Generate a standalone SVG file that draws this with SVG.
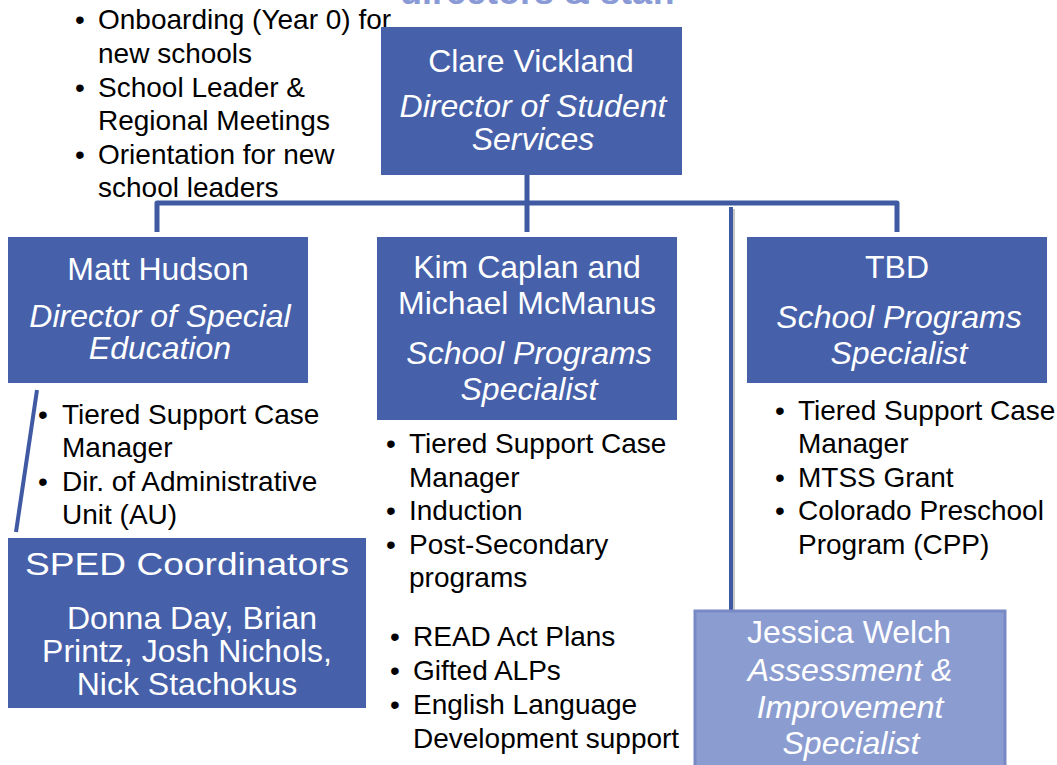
<svg xmlns="http://www.w3.org/2000/svg" width="1057" height="765" viewBox="0 0 1057 765">
<style>
.box{fill:#4660AA;}
.jw{fill:#8B9CD1;stroke:#7889C5;stroke-width:3;}
.t{font-family:"Liberation Sans",Arial,sans-serif;fill:#ffffff;text-anchor:middle;font-size:32px;}
.i{font-style:italic;}
.b{font-family:"Liberation Sans",Arial,sans-serif;fill:#000000;font-size:28px;}
.ln{stroke:#3F5AA3;stroke-width:5;fill:none;stroke-linejoin:round;stroke-linecap:butt;}
</style>
<rect width="1057" height="765" fill="#ffffff"/>
<text x="538" y="4" font-family="Liberation Sans,Arial,sans-serif" font-weight="bold" font-size="36" fill="#8A9AD6" text-anchor="middle">directors &amp; staff</text>

<g id="connectors">
<path class="ln" d="M527,175 V203"/>
<path class="ln" d="M157,232 V203 H897 V232"/>
<path class="ln" d="M527,203 V232"/>
<line x1="733" y1="209" x2="733" y2="612" stroke="#c8c8c8" stroke-width="4"/>
<line x1="731" y1="207" x2="731" y2="610" stroke="#3F5AA3" stroke-width="4"/>
<line x1="37" y1="390" x2="16" y2="532" stroke="#3F5AA3" stroke-width="4"/>
</g>

<g id="top-list">
<text class="b" x="75" y="29">•</text><text class="b" x="98" y="29">Onboarding (Year 0) for</text>
<text class="b" x="98" y="63">new schools</text>
<text class="b" x="75" y="97">•</text><text class="b" x="98" y="97">School Leader &amp;</text>
<text class="b" x="98" y="130">Regional Meetings</text>
<text class="b" x="75" y="164">•</text><text class="b" x="98" y="164">Orientation for new</text>
<text class="b" x="98" y="197">school leaders</text>
</g>

<g id="clare">
<rect class="box" x="381" y="27" width="301" height="148"/>
<text class="t" x="531" y="72">Clare Vickland</text>
<text class="t i" x="533" y="117">Director of Student</text>
<text class="t i" x="533" y="150">Services</text>
</g>

<g id="matt">
<rect class="box" x="8" y="237" width="300" height="146"/>
<text class="t" x="158" y="280">Matt Hudson</text>
<text class="t i" x="160" y="327">Director of Special</text>
<text class="t i" x="160" y="359">Education</text>
</g>

<g id="kim">
<rect class="box" x="377" y="237" width="300" height="183"/>
<text class="t" x="527" y="278">Kim Caplan and</text>
<text class="t" x="527" y="314">Michael McManus</text>
<text class="t i" x="529" y="364">School Programs</text>
<text class="t i" x="529" y="400">Specialist</text>
</g>

<g id="tbd">
<rect class="box" x="747" y="237" width="300" height="146"/>
<text class="t" x="897" y="278">TBD</text>
<text class="t i" x="899" y="328">School Programs</text>
<text class="t i" x="899" y="364">Specialist</text>
</g>

<g id="matt-list">
<text class="b" x="38" y="424">•</text><text class="b" x="62" y="424">Tiered Support Case</text>
<text class="b" x="62" y="457">Manager</text>
<text class="b" x="38" y="491">•</text><text class="b" x="62" y="491">Dir. of Administrative</text>
<text class="b" x="62" y="524">Unit (AU)</text>
</g>

<g id="kim-list">
<text class="b" x="386" y="453">•</text><text class="b" x="409" y="453">Tiered Support Case</text>
<text class="b" x="409" y="487">Manager</text>
<text class="b" x="386" y="520">•</text><text class="b" x="409" y="520">Induction</text>
<text class="b" x="386" y="554">•</text><text class="b" x="409" y="554">Post-Secondary</text>
<text class="b" x="409" y="587">programs</text>
</g>

<g id="kim-list2">
<text class="b" x="390" y="646">•</text><text class="b" x="413" y="646">READ Act Plans</text>
<text class="b" x="390" y="680">•</text><text class="b" x="413" y="680">Gifted ALPs</text>
<text class="b" x="390" y="714">•</text><text class="b" x="413" y="714">English Language</text>
<text class="b" x="413" y="748">Development support</text>
</g>

<g id="tbd-list">
<text class="b" x="775" y="420">•</text><text class="b" x="798" y="420">Tiered Support Case</text>
<text class="b" x="798" y="453">Manager</text>
<text class="b" x="775" y="487">•</text><text class="b" x="798" y="487">MTSS Grant</text>
<text class="b" x="775" y="520">•</text><text class="b" x="798" y="520">Colorado Preschool</text>
<text class="b" x="798" y="554">Program (CPP)</text>
</g>

<g id="sped">
<rect class="box" x="8" y="538" width="358" height="170"/>
<text class="t" x="187" y="575" font-size="36" textLength="324" lengthAdjust="spacingAndGlyphs">SPED Coordinators</text>
<text class="t" x="192" y="629" font-size="31">Donna Day, Brian</text>
<text class="t" x="187" y="662" font-size="31">Printz, Josh Nichols,</text>
<text class="t" x="187" y="695" font-size="31">Nick Stachokus</text>
</g>

<g id="jessica">
<rect class="jw" x="695" y="611" width="310" height="160"/>
<text class="t" x="849" y="643">Jessica Welch</text>
<text class="t i" x="850" y="681">Assessment &amp;</text>
<text class="t i" x="850" y="718">Improvement</text>
<text class="t i" x="851" y="754">Specialist</text>
</g>
</svg>
